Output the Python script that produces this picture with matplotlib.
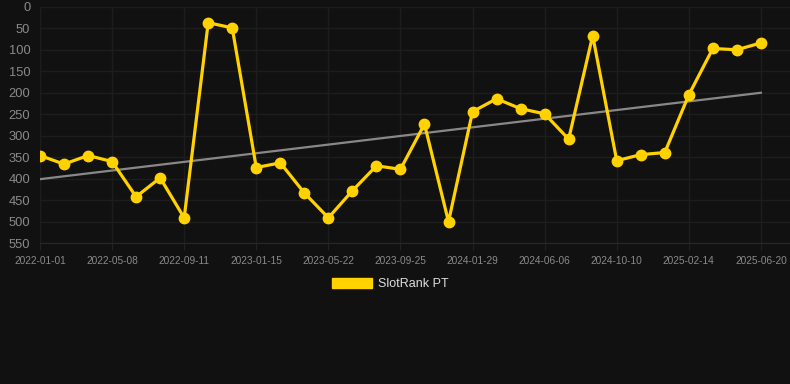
import matplotlib
matplotlib.use("Agg")
import matplotlib.pyplot as plt
from matplotlib.patches import Patch
import numpy as np

plt.rcParams['font.family'] = ['Liberation Sans', 'DejaVu Sans']

dates = ["2022-01-01", "", "", "2022-05-08", "", "", "2022-09-11", "", "",
         "2023-01-15", "", "", "2023-05-22", "", "", "2023-09-25", "", "",
         "2024-01-29", "", "", "2024-06-06", "", "", "2024-10-10", "", "",
         "2025-02-14", "", "", "2025-06-20"]
rank = [346, 366, 346, 360, 442, 398, 491, 37, 49, 374, 363, 433, 491, 428,
        370, 378, 273, 500, 244, 214, 237, 249, 308, 67, 358, 344, 339, 205,
        97, 100, 84]
trend = [401, 200]
series_name = "SlotRank PT"
yticks = [0, 50, 100, 150, 200, 250, 300, 350, 400, 450, 500, 550]

BG = "#111111"
GOLD = "#FFD200"
GRID = "#1d1d1d"

fig = plt.figure(figsize=(7.9, 3.84), dpi=100, facecolor=BG)
ax = fig.add_axes([40/790, 1-243.2/384, 1-40/790, (243.2-6.8)/384])
ax.set_facecolor(BG)

x = np.arange(len(rank))
ax.plot([x[0], x[-1]], trend, color="#888888", lw=1.6, zorder=2)
ax.plot(x, rank, color=GOLD, lw=2.3, marker='o', markersize=7.5, zorder=3)

ax.set_ylim(550, 0)
ax.set_xlim(0, (790-40)/24.03)
ax.set_yticks(yticks)
ax.set_yticklabels([str(v) for v in yticks])
tick_idx = [i for i, d in enumerate(dates) if d]
ax.set_xticks(tick_idx)
ax.set_xticklabels([dates[i] for i in tick_idx])

ax.grid(True, color=GRID, lw=1)
ax.set_axisbelow(True)
for s in ['top', 'right', 'left']:
    ax.spines[s].set_visible(False)
ax.spines['bottom'].set_color("#282828")
ax.tick_params(axis='y', length=0, pad=7, labelsize=9.3, labelcolor="#8a8a8a")
ax.tick_params(axis='x', length=5, color="#222222", pad=4, labelsize=7.3, labelcolor="#8a8a8a")

fig.legend(handles=[Patch(facecolor=GOLD, edgecolor=GOLD)], labels=[series_name],
           loc='center', bbox_to_anchor=(390/790, 1-284/384), frameon=False,
           handlelength=3.2, handleheight=0.95, handletextpad=0.5,
           fontsize=9, labelcolor="#dddddd")

fig.savefig("out.png", dpi=100, facecolor=BG)
